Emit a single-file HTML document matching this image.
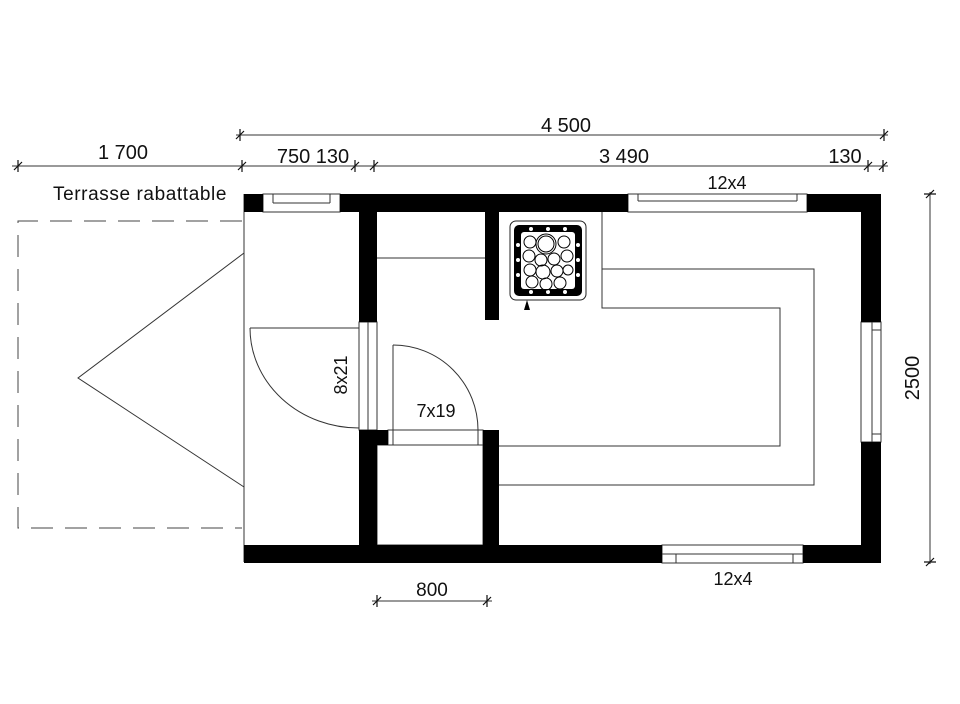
<!DOCTYPE html>
<html><head><style>body{margin:0;background:#fff}svg{display:block}text{font-family:"Liberation Sans",sans-serif;fill:#111}</style></head><body>
<svg width="960" height="704" viewBox="0 0 960 704" xmlns="http://www.w3.org/2000/svg">
<rect width="960" height="704" fill="#fff"/>
<g stroke="#333" stroke-width="1" fill="none">
<line x1="236" y1="135" x2="888" y2="135"/>
<line x1="12" y1="166" x2="888" y2="166"/>
<line x1="930" y1="192" x2="930" y2="564"/>
<line x1="372" y1="601" x2="492" y2="601"/>
</g>
<g stroke="#111" stroke-width="1.2">
<path d="M240,129 l0,12 M236,139 l8,-8"/>
<path d="M884,129 l0,12 M880,139 l8,-8"/>
<path d="M18,160 l0,12 M14,170 l8,-8"/>
<path d="M242,160 l0,12 M238,170 l8,-8"/>
<path d="M355,160 l0,12 M351,170 l8,-8"/>
<path d="M374,160 l0,12 M370,170 l8,-8"/>
<path d="M868,160 l0,12 M864,170 l8,-8"/>
<path d="M883,160 l0,12 M879,170 l8,-8"/>
<path d="M924,194 l12,0 M926,198 l8,-8"/>
<path d="M924,562 l12,0 M926,566 l8,-8"/>
<path d="M377,595 l0,12 M373,605 l8,-8"/>
<path d="M487,595 l0,12 M483,605 l8,-8"/>
</g>
<text x="566" y="132" font-size="20" text-anchor="middle">4 500</text>
<text x="123" y="159" font-size="20" text-anchor="middle">1 700</text>
<text x="313" y="163" font-size="20" text-anchor="middle">750 130</text>
<text x="624" y="163" font-size="20" text-anchor="middle">3 490</text>
<text x="845" y="163" font-size="20" text-anchor="middle">130</text>
<text x="140" y="200" font-size="19" letter-spacing="0.6" text-anchor="middle">Terrasse rabattable</text>
<text x="727" y="189" font-size="18" text-anchor="middle">12x4</text>
<text x="733" y="585" font-size="18" text-anchor="middle">12x4</text>
<text x="436" y="417" font-size="18" text-anchor="middle">7x19</text>
<text x="432" y="596" font-size="19" text-anchor="middle">800</text>
<text transform="translate(919,378) rotate(-90)" font-size="20" text-anchor="middle">2500</text>
<text transform="translate(347,375) rotate(-90)" font-size="18" text-anchor="middle">8x21</text>
<path d="M242,221 H18 V528 H242" stroke="#444" fill="none" stroke-dasharray="22,12"/>
<path d="M244,253 L78,378 L244,487" stroke="#333" fill="none"/>
<g stroke="#333" fill="none" stroke-width="1">
<line x1="244" y1="194" x2="244" y2="562"/>
<line x1="377" y1="258" x2="485" y2="258"/>
<path d="M602,212 V308 H780 V446 H499"/>
<path d="M602,269 H814 V485 H499"/>
<rect x="377" y="445" width="106" height="100"/>
<line x1="250" y1="328" x2="359" y2="328"/>
<path d="M250,328 A109,100 0 0 0 359,428"/>
<rect x="359" y="322" width="18" height="108"/>
<line x1="368" y1="322" x2="368" y2="430"/>
<rect x="388" y="430" width="95" height="15"/>
<line x1="393" y1="345" x2="393" y2="445"/>
<path d="M393,345 A85,85 0 0 1 478,430 V445"/>
<rect x="263" y="194" width="77" height="18"/>
<line x1="273" y1="194" x2="273" y2="203"/><line x1="330" y1="194" x2="330" y2="203"/><line x1="273" y1="203" x2="330" y2="203"/>
<rect x="628" y="194" width="179" height="18"/>
<line x1="638" y1="201" x2="797" y2="201"/><line x1="638" y1="194" x2="638" y2="201"/><line x1="797" y1="194" x2="797" y2="201"/>
<rect x="662" y="545" width="141" height="18"/>
<line x1="662" y1="554" x2="803" y2="554"/><line x1="676" y1="554" x2="676" y2="563"/><line x1="793" y1="554" x2="793" y2="563"/>
<rect x="861" y="322" width="20" height="120"/>
<line x1="872" y1="322" x2="872" y2="442"/><line x1="872" y1="330" x2="881" y2="330"/><line x1="872" y1="434" x2="881" y2="434"/>
</g>
<g fill="#000">
<rect x="244" y="194" width="19" height="18"/>
<rect x="340" y="194" width="288" height="18"/>
<rect x="807" y="194" width="74" height="18"/>
<rect x="861" y="194" width="20" height="128"/>
<rect x="861" y="442" width="20" height="121"/>
<rect x="244" y="545" width="418" height="18"/>
<rect x="803" y="545" width="78" height="18"/>
<rect x="359" y="212" width="18" height="110"/>
<rect x="485" y="212" width="14" height="108"/>
<rect x="359" y="430" width="18" height="115"/>
<rect x="377" y="430" width="11" height="15"/>
<rect x="483" y="430" width="16" height="115"/>
</g>
<rect x="510" y="221" width="76" height="79" rx="6" fill="#fff" stroke="#222"/>
<rect x="514" y="225" width="68" height="71" rx="5" fill="#000"/>
<rect x="521" y="232" width="54" height="57" rx="3" fill="#fff"/>
<g fill="#fff">
<circle cx="531" cy="229" r="2"/><circle cx="548" cy="229" r="2"/><circle cx="565" cy="229" r="2"/>
<circle cx="531" cy="292" r="2"/><circle cx="548" cy="292" r="2"/><circle cx="565" cy="292" r="2"/>
<circle cx="518" cy="245" r="2"/><circle cx="518" cy="260" r="2"/><circle cx="518" cy="275" r="2"/>
<circle cx="578" cy="245" r="2"/><circle cx="578" cy="260" r="2"/><circle cx="578" cy="275" r="2"/>
</g>
<g fill="none" stroke="#000" stroke-width="1">
<circle cx="546" cy="244" r="10"/><circle cx="546" cy="244" r="8"/>
<circle cx="530" cy="242" r="6"/><circle cx="564" cy="242" r="6"/>
<circle cx="529" cy="256" r="6"/><circle cx="541" cy="260" r="6"/><circle cx="554" cy="259" r="6"/><circle cx="567" cy="256" r="6"/>
<circle cx="530" cy="270" r="6"/><circle cx="543" cy="272" r="7"/><circle cx="557" cy="271" r="6"/><circle cx="568" cy="270" r="5"/>
<circle cx="532" cy="282" r="6"/><circle cx="546" cy="284" r="6"/><circle cx="560" cy="283" r="6"/>
</g>
<path d="M524,310 L527,300 L530,310 Z" fill="#000"/>
</svg>
</body></html>
